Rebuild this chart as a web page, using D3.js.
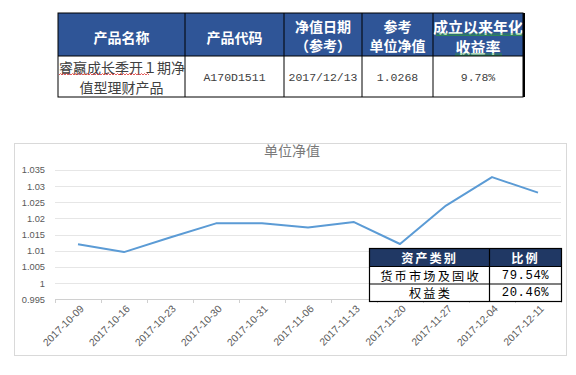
<!DOCTYPE html>
<html>
<head>
<meta charset="utf-8">
<script src="https://cdn.jsdelivr.net/npm/d3@7"></script>
<style>
  body { margin: 0; background: #fff; }
  svg { display: block; }
</style>
</head>
<body>
<div id="chart"></div>
<script>
// top product table
var productHeaders = [["产品名称"], ["产品代码"], ["净值日期", "（参考）"], ["参考", "单位净值"], ["成立以来年化", "收益率"]];
var productRow = [["睿嬴成长季开１期净", "值型理财产品"], ["A170D1511"], ["2017/12/13"], ["1.0268"], ["9.78%"]];

// nav series
var dates = ["2017-10-09", "2017-10-16", "2017-10-23", "2017-10-30", "2017-10-31", "2017-11-06",
             "2017-11-13", "2017-11-20", "2017-11-27", "2017-12-04", "2017-12-11"];
var navValues = [1.0120, 1.0096, 1.0141, 1.0185, 1.0185, 1.0172, 1.0189, 1.0121, 1.0240, 1.0328, 1.0280];
var yTicks = [0.995, 1, 1.005, 1.01, 1.015, 1.02, 1.025, 1.03, 1.035];

// asset allocation table
var assetHeaders = ["资产类别", "比例"];
var assetNames = ["货币市场及固收", "权益类"];
var assetShares = ["79.54%", "20.46%"];

var W = 576, H = 375;
var svg = d3.select("#chart").append("svg")
    .attr("width", W)
    .attr("height", H);

var cjk = "'Noto Sans CJK SC', sans-serif";
var mono = "'Liberation Mono', 'DejaVu Sans Mono', monospace";

// ---------- top table ----------
var colX = [58, 185, 284, 362, 433, 523];
var tTop = 13, tMid = 56, tBot = 97;

var tbl = svg.append("g");
tbl.append("rect")
    .attr("x", colX[0]).attr("y", tTop)
    .attr("width", colX[5] - colX[0]).attr("height", tMid - tTop)
    .attr("fill", "#2F5597");

productHeaders.forEach(function(lines, i) {
    var cx = (colX[i] + colX[i + 1]) / 2;
    var big = i === 4;
    var ys = lines.length === 1 ? [36.5] : (big ? [26.5, 46] : [25.5, 44.5]);
    lines.forEach(function(t, j) {
        tbl.append("text")
            .attr("x", cx).attr("y", ys[j])
            .attr("text-anchor", "middle")
            .attr("dominant-baseline", "central")
            .attr("fill", "#fff")
            .attr("font-family", cjk)
            .attr("font-weight", "bold")
            .attr("font-size", big ? 15 : 14)
            .text(t);
    });
});

// green grammar underline under the last header
[[436, 523, 34], [455, 502, 54]].forEach(function(u) {
    tbl.append("path")
        .attr("d", "M" + u[0] + "," + u[2] + "H" + u[1] + "M" + u[0] + "," + (u[2] + 1.5) + "H" + u[1])
        .attr("stroke", "#2E9E3A").attr("stroke-width", 0.7).attr("fill", "none");
});

// body row
tbl.append("text")
    .attr("x", colX[0] + 1).attr("y", 67)
    .attr("dominant-baseline", "central")
    .attr("fill", "#404040")
    .attr("font-family", cjk)
    .attr("font-size", 14)
    .attr("textLength", colX[1] - colX[0] - 1)
    .text(productRow[0][0]);
tbl.append("text")
    .attr("x", (colX[0] + colX[1]) / 2).attr("y", 87)
    .attr("text-anchor", "middle")
    .attr("dominant-baseline", "central")
    .attr("fill", "#404040")
    .attr("font-family", cjk)
    .attr("font-size", 14)
    .text(productRow[0][1]);

// red spell-check squiggle
var sq = "M59,75";
for (var sx = 59; sx < 148; sx += 3) sq += "L" + (sx + 1.5) + ",73.5L" + (sx + 3) + ",75";
tbl.append("path").attr("d", sq).attr("stroke", "#E03030").attr("stroke-width", 0.8).attr("fill", "none");

productRow.slice(1).forEach(function(cell, k) {
    var i = k + 1;
    tbl.append("text")
        .attr("x", (colX[i] + colX[i + 1]) / 2).attr("y", 77.5)
        .attr("text-anchor", "middle")
        .attr("dominant-baseline", "central")
        .attr("fill", "#404040")
        .attr("font-family", mono)
        .attr("font-size", 11.5)
        .text(cell[0]);
});

// borders
tbl.append("rect")
    .attr("x", colX[0]).attr("y", tTop)
    .attr("width", colX[5] - colX[0]).attr("height", tBot - tTop)
    .attr("fill", "none").attr("stroke", "#000").attr("stroke-width", 1);
tbl.append("line").attr("x1", colX[0]).attr("x2", colX[5]).attr("y1", tMid).attr("y2", tMid)
    .attr("stroke", "#000");
colX.slice(1, 5).forEach(function(x) {
    tbl.append("line").attr("x1", x).attr("x2", x).attr("y1", tTop).attr("y2", tBot).attr("stroke", "#000");
});
tbl.append("line").attr("x1", colX[5] + 1).attr("x2", colX[5] + 1).attr("y1", tTop).attr("y2", tBot)
    .attr("stroke", "#000").attr("stroke-width", 2);

// ---------- chart ----------
svg.append("rect")
    .attr("x", 14.5).attr("y", 143.5)
    .attr("width", 552).attr("height", 212)
    .attr("fill", "#fff").attr("stroke", "#d9d9d9");

svg.append("text")
    .attr("x", 292).attr("y", 150)
    .attr("text-anchor", "middle")
    .attr("dominant-baseline", "central")
    .attr("fill", "#7a7a7a")
    .attr("font-family", cjk)
    .attr("font-size", 14)
    .text("单位净值");

var x = d3.scaleBand().domain(dates).range([55, 561]);
var y = d3.scaleLinear().domain([0.995, 1.035]).range([299.3, 170]);

// gridlines
svg.append("g").selectAll("line")
    .data(yTicks.slice(1))
    .enter().append("line")
    .attr("x1", 55).attr("x2", 561)
    .attr("y1", function(d) { return Math.round(y(d)) + 0.5; })
    .attr("y2", function(d) { return Math.round(y(d)) + 0.5; })
    .attr("stroke", "#e6e6e6");

// y axis
var yAxis = svg.append("g")
    .attr("transform", "translate(55,0)")
    .call(d3.axisLeft(y).tickValues(yTicks).tickSize(0).tickPadding(10)
        .tickFormat(function(d) { return String(+d.toFixed(3)); }));
yAxis.select(".domain").remove();
yAxis.selectAll("text")
    .attr("fill", "#595959")
    .attr("font-family", "'Liberation Sans', Arial, sans-serif")
    .attr("font-size", 9.3);

// x axis
var xAxis = svg.append("g")
    .attr("transform", "translate(0," + Math.round(y(0.995)) + ")");
xAxis.append("line")
    .attr("x1", 55).attr("x2", 561).attr("y1", 0.5).attr("y2", 0.5)
    .attr("stroke", "#d0d0d0");
xAxis.selectAll(".tk")
    .data(dates.concat(["end"]))
    .enter().append("line")
    .attr("x1", function(d, i) { return Math.round(55 + i * x.bandwidth()) + 0.5; })
    .attr("x2", function(d, i) { return Math.round(55 + i * x.bandwidth()) + 0.5; })
    .attr("y1", 0).attr("y2", 4)
    .attr("stroke", "#d0d0d0");
xAxis.selectAll(".lbl")
    .data(dates)
    .enter().append("text")
    .attr("transform", function(d) {
        return "translate(" + (x(d) + x.bandwidth() / 2 + 4) + ",8) rotate(-45)";
    })
    .attr("text-anchor", "end")
    .attr("dominant-baseline", "central")
    .attr("fill", "#595959")
    .attr("font-family", "'Liberation Sans', Arial, sans-serif")
    .attr("font-size", 10.3)
    .text(function(d) { return d; });

// nav line
var line = d3.line()
    .x(function(d, i) { return x(dates[i]) + x.bandwidth() / 2; })
    .y(function(d) { return y(d); });
svg.append("path")
    .datum(navValues)
    .attr("d", line)
    .attr("fill", "none")
    .attr("stroke", "#5B9BD5")
    .attr("stroke-width", 2)
    .attr("stroke-linejoin", "round");

// ---------- asset table ----------
var aX = [369.5, 489.5, 561.5];
var aY = [248.5, 266.5, 284, 301.5];
var at = svg.append("g");
at.append("rect")
    .attr("x", aX[0]).attr("y", aY[0])
    .attr("width", aX[2] - aX[0]).attr("height", aY[3] - aY[0])
    .attr("fill", "#fff");
at.append("rect")
    .attr("x", aX[0]).attr("y", aY[0])
    .attr("width", aX[2] - aX[0]).attr("height", aY[1] - aY[0])
    .attr("fill", "#203864");
assetHeaders.forEach(function(t, i) {
    at.append("text")
        .attr("x", (aX[i] + aX[i + 1]) / 2).attr("y", (aY[0] + aY[1]) / 2)
        .attr("text-anchor", "middle")
        .attr("dominant-baseline", "central")
        .attr("fill", "#fff")
        .attr("font-family", cjk)
        .attr("font-weight", "bold")
        .attr("font-size", 12.2)
        .attr("letter-spacing", 2)
        .text(t);
});
assetNames.forEach(function(t, r) {
    var cy = (aY[r + 1] + aY[r + 2]) / 2 + 0.5;
    at.append("text")
        .attr("x", (aX[0] + aX[1]) / 2 + 1).attr("y", cy)
        .attr("text-anchor", "middle")
        .attr("dominant-baseline", "central")
        .attr("fill", "#000")
        .attr("font-family", cjk)
        .attr("font-size", 12.2)
        .attr("letter-spacing", 2.2)
        .text(t);
    at.append("text")
        .attr("x", (aX[1] + aX[2]) / 2).attr("y", cy)
        .attr("text-anchor", "middle")
        .attr("dominant-baseline", "central")
        .attr("fill", "#000")
        .attr("font-family", mono)
        .attr("font-size", 12.2)
        .attr("letter-spacing", 0.6)
        .text(assetShares[r]);
});
at.append("rect")
    .attr("x", aX[0]).attr("y", aY[0])
    .attr("width", aX[2] - aX[0]).attr("height", aY[3] - aY[0])
    .attr("fill", "none").attr("stroke", "#000").attr("stroke-width", 1.2);
[aY[1], aY[2]].forEach(function(yy) {
    at.append("line").attr("x1", aX[0]).attr("x2", aX[2]).attr("y1", yy).attr("y2", yy)
        .attr("stroke", "#000").attr("stroke-width", 1.2);
});
at.append("line").attr("x1", aX[1]).attr("x2", aX[1]).attr("y1", aY[0]).attr("y2", aY[3])
    .attr("stroke", "#000").attr("stroke-width", 1.2);
</script>
</body>
</html>
